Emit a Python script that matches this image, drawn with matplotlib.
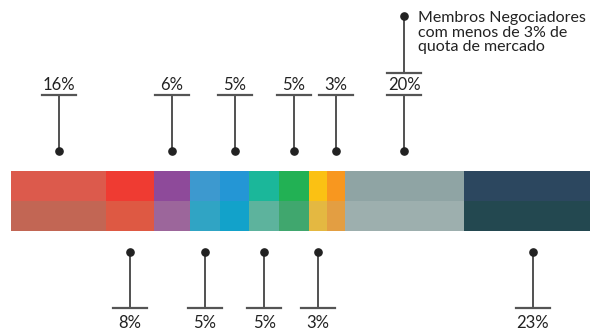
import numpy as np
import matplotlib
matplotlib.use("Agg")
from matplotlib import pyplot as plt

# market share per clearing member, left to right
shares = [16, 8, 6, 5, 5, 5, 5, 3, 3, 20, 23]
labels = ["16%", "8%", "6%", "5%", "5%", "5%", "5%", "3%", "3%", "20%", "23%"]
# which side of the bar each label sits on
sides = ["top", "bottom", "top", "bottom", "top", "bottom", "top", "bottom", "top", "top", "bottom"]
top_colors = ["#dc5a4c", "#ef3b32", "#8e4a9a", "#3d99cf", "#2496d5", "#1bb79a",
              "#22b154", "#fbc113", "#f8971f", "#8fa4a4", "#2c475f"]
bottom_colors = ["#c26654", "#de5943", "#9c669b", "#30a4c4", "#12a2ca", "#5db39d",
                 "#40a76e", "#e4b841", "#e39e42", "#9dafae", "#234850"]
note = "Membros Negociadores\ncom menos de 3% de\nquota de mercado"

plt.rcParams["font.family"] = ["Lato", "DejaVu Sans"]

W, H = 590, 331
fig = plt.figure(figsize=(W / 100, H / 100), dpi=100)
ax = fig.add_axes([0, 0, 1, 1])

px = 5.96  # pixels per percent point
ax.set_xlim(-11 / px, (W - 11) / px)
ax.set_ylim(H, 0)
ax.axis("off")

left = np.concatenate([[0], np.cumsum(shares)[:-1]])
centers = left + np.array(shares) / 2

# two-tone bar
ax.barh(186, shares, left=left, height=30, color=top_colors, linewidth=0)
ax.barh(216, shares, left=left, height=30, color=bottom_colors, linewidth=0)

ink = "#222222"
cap = "#555555"
half = 17 / px

for x, lab, side in zip(centers, labels, sides):
    if side == "top":
        ax.plot([x, x], [95, 151], color=ink, lw=1.1, solid_capstyle="butt")
        ax.plot(x, 151, "o", color=ink, ms=5.2)
        ax.plot([x - half, x + half], [95, 95], color=cap, lw=1.6)
        ax.text(x, 90.5, lab, ha="center", va="baseline", fontsize=12, color=ink)
    else:
        ax.plot([x, x], [252, 308], color=ink, lw=1.1, solid_capstyle="butt")
        ax.plot(x, 252, "o", color=ink, ms=5.2)
        ax.plot([x - half, x + half], [308, 308], color=cap, lw=1.6)
        ax.text(x, 328.5, lab, ha="center", va="baseline", fontsize=12, color=ink)

# callout for the small members group
i = len(shares) - 2
x = centers[i]
ax.plot([x, x], [16, 73], color=ink, lw=1.1, solid_capstyle="butt")
ax.plot(x, 16, "o", color=ink, ms=5.2)
ax.plot([x - half, x + half], [73, 73], color=cap, lw=1.6)
ax.text(x + 13.5 / px, 11, note, ha="left", va="top", fontsize=11.5,
        color=ink, linespacing=1.05)

fig.savefig("out.png", dpi=100)
